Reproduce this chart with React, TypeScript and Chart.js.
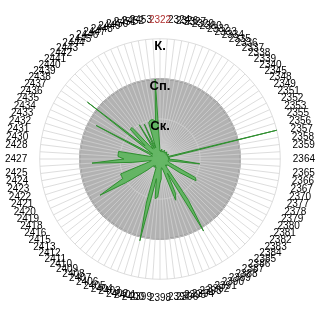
import React, { useEffect, useRef } from 'react';
import { Chart, registerables } from 'chart.js';

Chart.register(...registerables);

const categories: string[] = [
  '2322', '2324', '2326', '2327', '2329', '2330', '2332', '2333', '2334', '2335', '2336',
  '2337', '2338', '2339', '2340', '2345', '2348', '2349', '2351', '2352', '2353', '2355',
  '2356', '2357', '2358', '2359', '2364',
  '2365', '2366', '2367', '2370', '2377', '2378', '2379', '2380', '2381', '2382', '2383',
  '2384', '2385', '2386',
  '2387', '2388', '2389', '2390', '2391', '2392', '2393', '2394', '2395', '2396', '2397',
  '2398', '2399', '2400', '2401', '2402', '2403', '2404', '2405', '2406', '2407', '2408', '2409',
  '2410', '2411', '2412', '2413', '2415', '2416', '2418', '2419', '2420', '2421', '2422',
  '2423', '2424', '2425',
  '2427', '2428', '2430', '2431', '2432', '2433', '2434', '2435', '2436', '2437', '2438',
  '2439', '2440',
  '2441', '2442', '2443', '2444', '2445', '2446', '2447', '2448', '2449', '2450', '2451',
  '2452', '2453',
];

const greenValues: number[] = [
  0.2, 0.22, 0.18, 0.25, 0.2, 0.18, 0.22, 0.2, 0.25, 0.2, 0.18,
  0.22, 0.2, 0.25, 0.2, 0.22, 0.18, 0.2, 0.25, 0.2, 0.22, 0.2,
  3.0, 0.2, 0.22, 0.25, 0.2,
  0.45, 1.0, 0.3, 0.2, 0.22, 0.25, 0.4, 1.0, 1.05, 0.6, 0.25,
  0.22, 0.25, 0.2,
  0.3, 1.25, 2.1, 0.4, 0.95, 1.1, 0.4, 0.25, 0.22, 0.25, 0.5,
  0.6, 0.95, 1.0, 0.5, 2.1, 1.15, 0.4, 0.25, 0.22, 0.25, 0.2, 0.25,
  0.22, 0.25, 0.4, 0.6, 1.05, 1.75, 1.05, 1.05, 1.05, 0.4, 0.25,
  0.22, 0.7, 1.7,
  0.9, 1.05, 1.05, 1.05, 0.3, 0.22, 0.2, 0.3, 1.8, 0.3, 0.22,
  2.3, 0.5,
  1.05, 1.05, 0.4, 0.3, 1.0, 0.3, 0.95, 0.3, 0.95, 1.0, 1.0,
  0.95, 2.0,
];

const grayValues: number[] = [
  2, 2, 2, 2, 2, 2, 2, 2, 2, 2, 2,
  2, 2, 2, 2, 2, 2, 2, 2, 2, 2, 2,
  2, 2, 2, 2, 2,
  2, 2, 2, 2, 2, 2, 2, 2, 2, 2, 2,
  2, 2, 2,
  2, 2, 2, 2, 2, 2, 2, 2, 2, 2, 2,
  2, 2, 2, 2, 2, 2, 2, 2, 2, 2, 2, 2,
  2, 2, 2, 2, 2, 2, 2, 2, 2, 2, 2,
  2, 2, 2,
  2, 2, 2, 2, 2, 2, 2, 2, 2, 2, 2,
  2, 2,
  2, 2, 2, 2, 2, 2, 2, 2, 2, 2, 2,
  2, 2,
];

const tickLabels: string[] = ['', 'Ск.', 'Сп.', 'К.'];
const highlightedCategories: string[] = ['2322'];

// Draw the grid above the grey disc but beneath the green series
const gridBetween = {
  id: 'gridBetween',
  afterLayout(chart: any) {
    const s = chart.scales.r;
    if (s && !s._origDrawGrid) {
      s._origDrawGrid = s.drawGrid;
      s.drawGrid = function (...args: any[]) {
        if (this._allowGrid) this._origDrawGrid.apply(this, args);
      };
    }
  },
  afterDatasetDraw(chart: any, args: any) {
    if (args.index === 1) {
      const s = chart.scales.r;
      s._allowGrid = true;
      s.drawGrid(chart.chartArea);
      s._allowGrid = false;
    }
  },
};

export default function App() {
  const ref = useRef<HTMLCanvasElement | null>(null);

  useEffect(() => {
    if (!ref.current) return;
    const chart = new Chart(ref.current, {
      type: 'radar',
      data: {
        labels: categories,
        datasets: [
          {
            data: greenValues,
            fill: 'origin',
            backgroundColor: 'rgba(92,180,92,0.92)',
            borderColor: '#2f8f2f',
            borderWidth: 1,
            pointRadius: 0,
            tension: 0,
          },
          {
            data: grayValues,
            fill: 'origin',
            backgroundColor: '#b2b2b2',
            borderColor: '#888888',
            borderWidth: 1.5,
            pointRadius: 0,
            tension: 0,
          },
        ],
      },
      options: {
        responsive: false,
        animation: false,
        layout: { padding: { top: 6, bottom: 7, left: 5, right: 5 } },
        plugins: { legend: { display: false }, tooltip: { enabled: false } },
        scales: {
          r: {
            min: 0,
            max: 3,
            ticks: {
              stepSize: 1,
              z: 2,
              showLabelBackdrop: false,
              color: '#000',
              font: { family: 'Liberation Sans', size: 13, weight: 'bold', lineHeight: 0.6 },
              callback: (v: any) => (v > 0 ? ['', tickLabels[v]] : ''),
            },
            grid: { color: 'rgba(210,210,210,0.75)' },
            angleLines: { color: 'rgba(210,210,210,0.75)' },
            pointLabels: {
              padding: 4,
              font: { family: 'Liberation Sans', size: 10 },
              color: (c: any) =>
                highlightedCategories.includes(categories[c.index]) ? '#b03030' : '#000',
            },
          },
        },
      },
      plugins: [gridBetween],
    });
    return () => chart.destroy();
  }, []);

  return (
    <div style={{ position: 'fixed', left: 0, top: 0, width: 320, height: 320, background: '#fff' }}>
      <canvas ref={ref} width={320} height={320} style={{ width: 320, height: 320 }} />
    </div>
  );
}
